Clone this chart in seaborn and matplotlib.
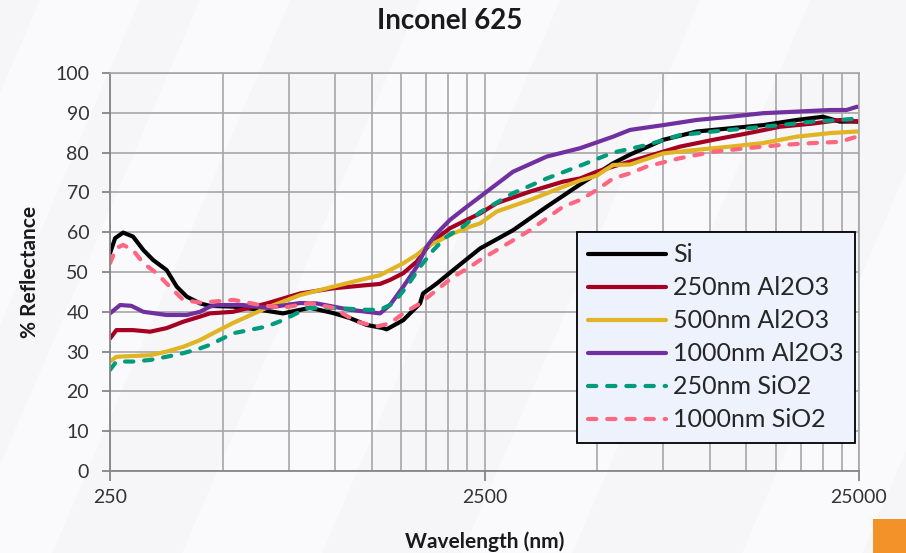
import matplotlib
matplotlib.use("Agg")
import matplotlib.pyplot as plt
from matplotlib.patches import Polygon, Rectangle
from matplotlib.ticker import FixedLocator, FixedFormatter, NullFormatter
import pandas as pd
import seaborn as sns

# Reflectance spectra of Inconel 625 with different coatings
wl_si = [250, 258, 271, 288, 307, 326, 354, 377, 401, 435, 462, 533, 629, 724, 855, 985,
         1094, 1212, 1340, 1370, 1517, 1682, 1713, 1864, 2064, 2288, 2432, 2980, 3665,
         4498, 5511, 6117, 7496, 9219, 11310, 13860, 17045, 20040, 22220, 25000]
r_si = [54.7, 58.5, 59.9, 58.9, 55.5, 53.0, 50.5, 46.3, 43.8, 42.1, 41.5, 41.3, 40.5, 39.6,
        41.0, 39.7, 38.4, 36.7, 35.9, 35.6, 37.9, 42.1, 44.6, 47.1, 50.5, 53.9, 55.9, 60.5,
        66.4, 72.0, 77.3, 79.5, 83.2, 85.3, 86.1, 86.9, 88.2, 89.0, 87.8, 87.8]

wl_al250 = [250, 260, 288, 320, 354, 392, 435, 462, 533, 655, 804, 985, 1212, 1315, 1398,
            1517, 1648, 1753, 1864, 2022, 2242, 2432, 2695, 3307, 4051, 4498, 4985, 5511,
            6779, 8318, 10190, 12535, 15380, 18850, 22220, 25000]
r_al250 = [33.3, 35.4, 35.4, 35.0, 35.9, 37.5, 38.8, 39.6, 40.0, 42.1, 44.6, 45.9, 46.7,
           47.0, 48.0, 49.7, 52.6, 56.0, 58.5, 61.0, 63.1, 64.7, 67.3, 70.2, 72.7, 73.5,
           75.2, 76.5, 79.0, 81.5, 83.2, 84.8, 86.5, 87.3, 88.2, 87.8]

wl_al500 = [250, 260, 320, 354, 392, 435, 462, 533, 655, 804, 985, 1212, 1315, 1398, 1517,
            1648, 1753, 1864, 2064, 2288, 2432, 2695, 3307, 4051, 4498, 4985, 5511, 6117,
            7496, 9219, 11310, 13860, 17045, 20930, 24650, 25000]
r_al500 = [27.5, 28.7, 29.1, 30.0, 31.2, 32.9, 34.2, 37.2, 41.0, 44.2, 46.3, 48.4, 49.2,
           50.5, 52.2, 54.3, 56.4, 57.6, 59.7, 61.4, 62.2, 65.2, 68.1, 71.4, 73.0, 74.2,
           76.9, 77.0, 79.8, 80.7, 81.5, 82.4, 84.0, 84.9, 85.3, 85.3]

wl_al1000 = [250, 266, 285, 307, 354, 401, 435, 462, 482, 566, 655, 804, 891, 1094, 1315,
             1398, 1517, 1648, 1753, 1864, 2022, 2242, 2432, 2980, 3665, 4498, 5511, 6117,
             7496, 9219, 11310, 13860, 17045, 20930, 23160, 24650, 25000]
r_al1000 = [39.6, 41.7, 41.5, 40.0, 39.2, 39.2, 40.0, 41.3, 41.7, 41.7, 41.0, 42.2, 42.1,
            40.5, 39.6, 41.7, 46.3, 51.3, 56.4, 59.7, 63.1, 66.4, 68.9, 75.2, 79.0, 81.1,
            84.0, 85.7, 86.9, 88.2, 89.0, 89.9, 90.3, 90.7, 90.7, 91.5, 91.5]

wl_si250 = [250, 260, 288, 320, 354, 392, 435, 462, 533, 655, 724, 838, 985, 1212, 1315,
            1424, 1550, 1682, 1825, 1981, 2191, 2432, 2980, 3665, 4498, 5511, 6779, 8318,
            10190, 12535, 15380, 18850, 22220, 25000]
r_si250 = [25.4, 27.5, 27.5, 27.9, 28.7, 29.6, 30.8, 31.7, 34.6, 36.3, 37.9, 40.9, 41.0,
           40.5, 40.5, 42.1, 46.3, 51.3, 55.5, 58.9, 61.4, 65.0, 69.8, 73.5, 76.7, 80.0,
           81.9, 84.4, 85.3, 86.1, 86.9, 87.8, 88.2, 88.6]

wl_si1000 = [250, 260, 271, 288, 307, 333, 361, 392, 435, 462, 533, 629, 724, 855, 985,
             1140, 1289, 1398, 1517, 1682, 1864, 2064, 2288, 2432, 2695, 3307, 4051, 4498,
             4985, 5511, 6117, 6779, 8318, 10190, 12535, 15380, 18850, 22220, 24650, 25000]
r_si1000 = [52.2, 56.0, 56.8, 55.5, 52.2, 49.7, 46.3, 43.0, 42.3, 42.5, 43.0, 41.7, 41.0,
            42.2, 41.0, 37.5, 36.3, 37.1, 39.6, 42.1, 45.5, 48.8, 51.3, 53.0, 55.5, 60.5,
            66.4, 68.1, 70.6, 73.5, 74.8, 76.5, 78.6, 80.2, 81.1, 81.9, 82.4, 82.7, 84.0, 84.0]

labels = ["Si", "250nm Al2O3", "500nm Al2O3", "1000nm Al2O3", "250nm SiO2", "1000nm SiO2"]
wavelengths = [wl_si, wl_al250, wl_al500, wl_al1000, wl_si250, wl_si1000]
reflectance = [r_si, r_al250, r_al500, r_al1000, r_si250, r_si1000]
colors = ["#000000", "#a50021", "#e0b422", "#7030a0", "#009a7c", "#ff6680"]
dashed = [False, False, False, False, True, True]

major_ticks = [250, 2500, 25000]
minor_ticks = [250 * k for k in range(2, 10)] + [2500 * k for k in range(2, 10)]
y_ticks = list(range(0, 101, 10))

sns.set_theme(style="white")
plt.rcParams["font.family"] = ["Lato", "DejaVu Sans"]

fig = plt.figure(figsize=(9.06, 5.53), dpi=100, facecolor="#f6f6f9")

# soft diagonal light bands in the backdrop
W, H = 906, 553
shift = 0.43 * H
for x0, w in [(40, 100), (200, 90), (420, 140), (700, 110), (980, 120)]:
    pts = [(x0 / W, 1), ((x0 + w) / W, 1), ((x0 + w - shift) / W, 0), ((x0 - shift) / W, 0)]
    fig.patches.append(Polygon(pts, closed=True, transform=fig.transFigure,
                               facecolor="white", edgecolor="none", alpha=0.5, zorder=-2))
fig.patches.append(Rectangle((873 / W, 0), 33 / W, 34 / H, transform=fig.transFigure,
                             facecolor="#f39229", edgecolor="none", zorder=-1))

ax = fig.add_axes([110 / W, 1 - 471 / H, 749 / W, 398 / H])
ax.set_zorder(5)
ax.set_facecolor("none")
ax.set_axisbelow(True)

for lab, wl, r, c, d in zip(labels, wavelengths, reflectance, colors, dashed):
    df = pd.DataFrame({"Wavelength": wl, "Reflectance": r})
    kw = dict(linestyle=(0, (2.0, 2.6)), dash_capstyle="round") if d else dict(solid_capstyle="round")
    sns.lineplot(data=df, x="Wavelength", y="Reflectance", ax=ax, color=c, lw=3.0,
                 label=lab, estimator=None, sort=False, **kw)

ax.set_xscale("log")
ax.set_xlim(250, 25000)
ax.set_ylim(0, 100)
ax.xaxis.set_major_locator(FixedLocator(major_ticks))
ax.xaxis.set_major_formatter(FixedFormatter([str(t) for t in major_ticks]))
ax.xaxis.set_minor_locator(FixedLocator(minor_ticks))
ax.xaxis.set_minor_formatter(NullFormatter())
ax.yaxis.set_major_locator(FixedLocator(y_ticks))

grid_c = "#a6a6a6"
ax.grid(True, which="both", axis="x", color=grid_c, lw=1.2)
ax.grid(True, which="major", axis="y", color=grid_c, lw=1.2)

for s in ["top", "right"]:
    ax.spines[s].set_color(grid_c)
    ax.spines[s].set_linewidth(1.2)
for s in ["left", "bottom"]:
    ax.spines[s].set_color("#868686")
    ax.spines[s].set_linewidth(1.3)

ax.tick_params(axis="x", which="major", direction="out", length=7, width=1.3,
               color="#868686", pad=6, labelsize=14, labelcolor="#333333", bottom=True)
ax.tick_params(axis="x", which="minor", length=0)
ax.tick_params(axis="y", which="major", direction="out", length=6, width=1.3,
               color="#868686", pad=9, labelsize=14, labelcolor="#333333", left=True)

ax.set_xlabel("")
ax.set_ylabel("")
fig.text(0.496, 1 - 21 / H, "Inconel 625", ha="center", va="center",
         fontsize=20, fontweight="bold", color="#1a1a1a")
fig.text(484.5 / W, 1 - 542 / H, "Wavelength (nm)", ha="center", va="center",
         fontsize=15, fontweight="bold", color="#1a1a1a")
fig.text(30 / W, 1 - 272 / H, "% Reflectance", ha="center", va="center", rotation=90,
         fontsize=15, fontweight="bold", color="#1a1a1a")

leg = ax.legend(loc="upper left", bbox_to_anchor=((577 - 110) / 749, (471 - 232) / 398),
                frameon=True, fancybox=False, edgecolor="black", facecolor="#eef2fc",
                framealpha=1, fontsize=18, handlelength=3.1, handletextpad=0.3,
                labelspacing=0.4, borderpad=0.45, borderaxespad=0)
leg.get_frame().set_linewidth(1.3)
for t in leg.get_texts():
    t.set_color("#262626")

fig.savefig("out.png", dpi=100, facecolor=fig.get_facecolor())
